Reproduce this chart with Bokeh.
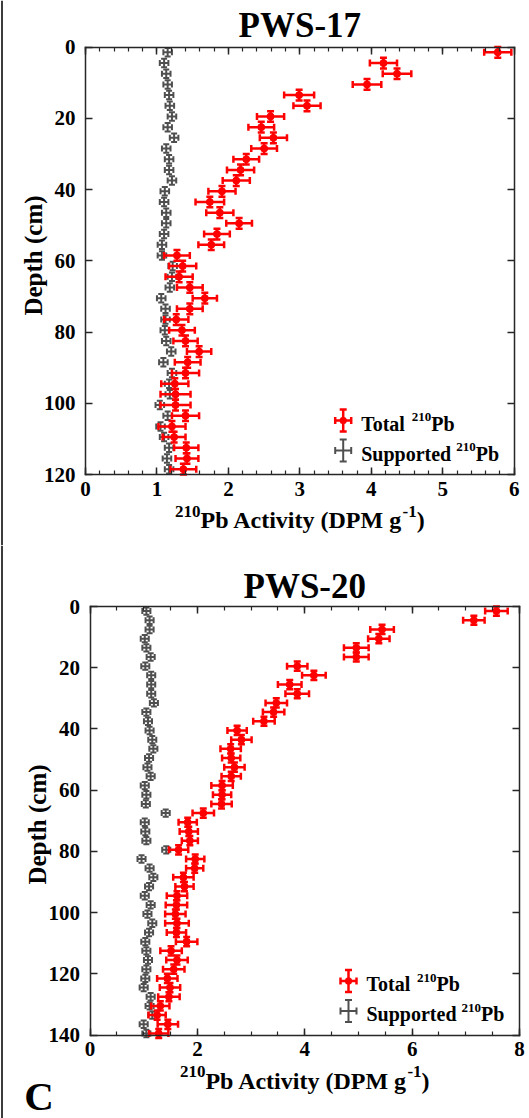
import math
from bokeh.plotting import figure
from bokeh.models import (Range1d, SingleIntervalTicker, LinearAxis, Whisker, TeeHead,
                          ColumnDataSource, Label, BoxAnnotation, CustomJSTickFormatter, Span)
from bokeh.layouts import column
from bokeh.embed import file_html
from bokeh.resources import INLINE

# ---------------- data ----------------
DEPTH_17 = [1.5, 4.5, 7.5, 10.5, 13.5, 16.5, 19.5, 22.5, 25.5, 28.5,
            31.5, 34.5, 37.5, 40.5, 43.5, 46.5, 49.5, 52.5, 55.5, 58.5,
            61.5, 64.5, 67.5, 70.5, 73.5, 76.5, 79.5, 82.5, 85.5, 88.5,
            91.5, 94.5, 97.5, 100.5, 103.5, 106.5, 109.5, 112.5, 115.5, 118.5]
TOTAL_17 = [5.77, 4.17, 4.36, 3.94, 2.99, 3.10, 2.59, 2.46, 2.63, 2.50,
            2.25, 2.17, 2.11, 1.91, 1.74, 1.88, 2.15, 1.84, 1.76, 1.28,
            1.36, 1.31, 1.46, 1.67, 1.46, 1.27, 1.35, 1.40, 1.59, 1.43,
            1.40, 1.25, 1.26, 1.26, 1.40, 1.21, 1.24, 1.41, 1.42, 1.37]
TOTAL_17_ERR = [0.19, 0.19, 0.20, 0.20, 0.21, 0.19, 0.19, 0.18, 0.19, 0.18,
                0.18, 0.19, 0.19, 0.19, 0.20, 0.19, 0.18, 0.18, 0.18, 0.18,
                0.19, 0.19, 0.18, 0.17, 0.18, 0.17, 0.18, 0.17, 0.17, 0.18,
                0.19, 0.19, 0.21, 0.21, 0.19, 0.19, 0.16, 0.17, 0.16, 0.18]
SUPP_17 = [1.15, 1.10, 1.13, 1.15, 1.17, 1.18, 1.21, 1.15, 1.24, 1.13,
           1.17, 1.17, 1.21, 1.11, 1.10, 1.13, 1.13, 1.10, 1.07, 1.07,
           1.22, 1.21, 1.18, 1.06, 1.12, 1.12, 1.11, 1.13, 1.20, 1.09,
           1.21, 1.17, 1.18, 1.04, 1.15, 1.05, 1.10, 1.17, 1.14, 1.17]
SUPP_17_ERR = 0.06

DEPTH_20 = [1.5, 4.5, 7.5, 10.5, 13.5, 16.5, 19.5, 22.5, 25.5, 28.5,
            31.5, 34.5, 37.5, 40.5, 43.5, 46.5, 49.5, 52.5, 55.5, 58.5,
            61.5, 64.5, 67.5, 70.5, 73.5, 76.5, 79.5, 82.5, 85.5, 88.5,
            91.5, 94.5, 97.5, 100.5, 103.5, 106.5, 109.5, 112.5, 115.5, 118.5,
            121.5, 124.5, 127.5, 130.5, 133.5, 136.5, 139.5]
TOTAL_20 = [7.57, 7.15, 5.44, 5.38, 4.96, 4.96, 3.86, 4.17, 3.72, 3.86,
            3.47, 3.42, 3.24, 2.74, 2.82, 2.62, 2.63, 2.69, 2.63, 2.46,
            2.46, 2.45, 2.11, 1.82, 1.84, 1.86, 1.65, 1.96, 1.95, 1.74,
            1.76, 1.62, 1.61, 1.59, 1.62, 1.61, 1.80, 1.51, 1.62, 1.56,
            1.44, 1.49, 1.47, 1.31, 1.25, 1.45, 1.28]
TOTAL_20_ERR = [0.21, 0.20, 0.22, 0.20, 0.23, 0.23, 0.19, 0.22, 0.22, 0.22,
                0.20, 0.20, 0.20, 0.18, 0.19, 0.19, 0.17, 0.19, 0.18, 0.20,
                0.17, 0.19, 0.20, 0.17, 0.17, 0.15, 0.18, 0.17, 0.16, 0.19,
                0.17, 0.19, 0.20, 0.19, 0.22, 0.18, 0.20, 0.20, 0.20, 0.20,
                0.19, 0.19, 0.20, 0.17, 0.16, 0.19, 0.18]
SUPP_20 = [1.05, 1.11, 1.11, 1.02, 1.05, 1.13, 1.03, 1.14, 1.14, 1.14,
           1.19, 1.05, 1.08, 1.11, 1.16, 1.18, 1.10, 1.07, 1.13, 1.02,
           1.05, 1.04, 1.41, 1.02, 1.03, 1.05, 1.42, 0.96, 1.11, 1.18,
           1.10, 1.02, 1.13, 1.07, 1.16, 1.10, 1.03, 1.05, 1.08, 1.05,
           1.03, 1.00, 1.13, 1.11, 1.16, 1.00, 1.05]
SUPP_20_ERR = 0.075

TOTAL_DEPTH_ERR = 1.5
SUPP_DEPTH_ERR = 1.2

TITLES = ["PWS-17", "PWS-20"]
X_LABEL = ("210", "Pb Activity (DPM g", "-1", ")")
Y_LABEL = "Depth (cm)"
LEGEND_TOTAL = ("Total ", "210", "Pb")
LEGEND_SUPP = ("Supported ", "210", "Pb")
PANEL_LETTER = "C"

# ---------------- style ----------------
FONT = "Liberation Serif"
RED = "#ff0000"
GRAY = "#4f4f4f"
AX = "#262626"
BASELINE_FIX = 0.3  # em: observed offset of the alphabetic baseline

# Times/Liberation Serif Bold advance widths (per 1000 em)
WID = {' ': 250, '(': 333, ')': 333, '-': 333, 'A': 722, 'C': 722, 'D': 722,
       'M': 944, 'P': 611, 'S': 556, 'T': 667, 'W': 1000, 'a': 500, 'b': 556,
       'c': 444, 'd': 556, 'e': 444, 'g': 500, 'h': 556, 'i': 278, 'l': 278,
       'm': 833, 'o': 500, 'p': 556, 'r': 444, 't': 333, 'u': 556, 'v': 500,
       'y': 500}


def tw(s, size):
    return sum(WID.get(c, 500) for c in s) * size / 1000.0


BLANK = "return ''"


def style_axis(ax, labels, minor=True):
    ax.axis_line_color = AX
    ax.axis_line_width = 1.5
    ax.axis_line_cap = "square"
    ax.major_tick_line_color = AX
    ax.major_tick_line_width = 1.5
    ax.major_tick_in = 7
    ax.major_tick_out = 0
    if minor:
        ax.minor_tick_line_color = AX
        ax.minor_tick_line_width = 1.2
        ax.minor_tick_in = 4
        ax.minor_tick_out = 0
    else:
        ax.minor_tick_line_color = None
    if labels:
        ax.major_label_text_font = FONT
        ax.major_label_text_font_style = "bold"
        ax.major_label_text_font_size = "21px"
        ax.major_label_text_color = "black"
    else:
        ax.formatter = CustomJSTickFormatter(code=BLANK)


def panel(title, depth, tot, tot_err, sup, sup_err, xmax, xint, xminor, ymax,
          H, box, title_base, xlabel_base, ylabel_pos, letter=None):
    W = 529
    bl, br, bt, bb = box  # data box in canvas pixels (left, right, top, bottom)
    ppx = (br - bl) / xmax
    ppy = (bb - bt) / ymax
    x_range = Range1d(-bl / ppx, xmax + (W - br) / ppx)
    y_range = Range1d(ymax + (H - bb) / ppy, -bt / ppy)
    p = figure(width=W, height=H, x_range=x_range, y_range=y_range,
               x_axis_location=None, y_axis_location=None,
               output_backend="svg", toolbar_location=None, min_border=0,
               background_fill_color="white", border_fill_color="white")
    p.outline_line_color = None
    p.xgrid.visible = False
    p.ygrid.visible = False

    def sy(cy):  # canvas y (top-down) -> screen y (bottom-up)
        return H - cy

    def text(t, cx, cy, size, align="left", baseline="alphabetic", angle=0.0):
        if baseline == "alphabetic":
            cy -= BASELINE_FIX * size
        p.add_layout(Label(x=cx, y=sy(cy), x_units="screen", y_units="screen", text=t,
                           text_font=FONT, text_font_style="bold",
                           text_font_size=f"{size}px", text_align=align,
                           text_baseline=baseline, angle=angle, text_color="black"))

    def rich(parts, cx, cy):
        for t, size, rise in parts:
            text(t, cx, cy - rise, size)
            cx += tw(t, size)

    # left border line of the figure
    p.add_layout(Span(location=1.5, location_units="screen", dimension="height",
                      line_color="#3c3c3c", line_width=2))

    xt = SingleIntervalTicker(interval=xint, num_minor_ticks=xminor)
    yt = SingleIntervalTicker(interval=20, num_minor_ticks=2)

    ax_b = LinearAxis(fixed_location=ymax, bounds=(0, xmax), ticker=xt)
    style_axis(ax_b, True)
    ax_b.major_label_standoff = 7
    p.add_layout(ax_b, "below")
    ax_t = LinearAxis(fixed_location=0, bounds=(0, xmax), ticker=xt)
    style_axis(ax_t, False)
    p.add_layout(ax_t, "above")
    ax_l = LinearAxis(fixed_location=0, bounds=(0, ymax), ticker=yt)
    style_axis(ax_l, True, minor=False)
    ax_l.major_label_standoff = 6
    p.add_layout(ax_l, "left")
    ax_r = LinearAxis(fixed_location=xmax, bounds=(0, ymax), ticker=yt)
    style_axis(ax_r, False, minor=False)
    p.add_layout(ax_r, "right")

    # supported (gray)
    s_src = ColumnDataSource(dict(
        d=depth, x=sup,
        xlo=[v - sup_err for v in sup], xhi=[v + sup_err for v in sup],
        dlo=[d - SUPP_DEPTH_ERR for d in depth], dhi=[d + SUPP_DEPTH_ERR for d in depth]))
    for dim, base, lo, hi in (("width", "d", "xlo", "xhi"), ("height", "x", "dlo", "dhi")):
        p.add_layout(Whisker(source=s_src, base=base, lower=lo, upper=hi, dimension=dim,
                             line_color=GRAY, line_width=2,
                             lower_head=TeeHead(size=6, line_color=GRAY, line_width=2),
                             upper_head=TeeHead(size=6, line_color=GRAY, line_width=2)))

    # total (red)
    t_src = ColumnDataSource(dict(
        d=depth, x=tot,
        xlo=[v - e for v, e in zip(tot, tot_err)], xhi=[v + e for v, e in zip(tot, tot_err)],
        dlo=[d - TOTAL_DEPTH_ERR for d in depth], dhi=[d + TOTAL_DEPTH_ERR for d in depth]))
    for dim, base, lo, hi in (("width", "d", "xlo", "xhi"), ("height", "x", "dlo", "dhi")):
        p.add_layout(Whisker(source=t_src, base=base, lower=lo, upper=hi, dimension=dim,
                             line_color=RED, line_width=2.5,
                             lower_head=TeeHead(size=7, line_color=RED, line_width=2.5),
                             upper_head=TeeHead(size=7, line_color=RED, line_width=2.5)))
    p.scatter("x", "d", source=t_src, marker="circle", size=7,
              fill_color=RED, line_color=RED)

    cxm = (bl + br) / 2
    # title
    text(title, cxm, title_base, 35, align="center")

    # x label with superscripts
    parts = [(X_LABEL[0], 17, 11), (X_LABEL[1], 24, 0), (X_LABEL[2], 17, 11), (X_LABEL[3], 24, 0)]
    total_w = sum(tw(t, s) for t, s, _ in parts)
    rich(parts, cxm - total_w / 2, xlabel_base)

    # y label
    text(Y_LABEL, ylabel_pos[0], ylabel_pos[1], 25, align="center", baseline="middle",
         angle=math.pi / 2)

    # legend
    tx = br - 153
    gx = tx - 18
    for i, (labels, color, dot) in enumerate(((LEGEND_TOTAL, RED, True),
                                               (LEGEND_SUPP, GRAY, False))):
        cyc = bb - 54 + 30 * i
        yc = sy(cyc)
        lw = 2.5 if dot else 2
        g1 = ColumnDataSource(dict(b=[yc], lo=[gx - 8], hi=[gx + 8]))
        p.add_layout(Whisker(source=g1, base="b", lower="lo", upper="hi", dimension="width",
                             base_units="screen", lower_units="screen", upper_units="screen",
                             line_color=color, line_width=lw,
                             lower_head=TeeHead(size=7, line_color=color, line_width=lw),
                             upper_head=TeeHead(size=7, line_color=color, line_width=lw)))
        g2 = ColumnDataSource(dict(b=[gx], lo=[yc - 11], hi=[yc + 11]))
        p.add_layout(Whisker(source=g2, base="b", lower="lo", upper="hi", dimension="height",
                             base_units="screen", lower_units="screen", upper_units="screen",
                             line_color=color, line_width=lw,
                             lower_head=TeeHead(size=7, line_color=color, line_width=lw),
                             upper_head=TeeHead(size=7, line_color=color, line_width=lw)))
        if dot:
            p.add_layout(BoxAnnotation(left=gx - 3.5, right=gx + 3.5, bottom=yc - 3.5, top=yc + 3.5,
                                       left_units="screen", right_units="screen",
                                       top_units="screen", bottom_units="screen",
                                       fill_color=color, fill_alpha=1.0, line_color=color,
                                       border_radius=4))
        rich([(labels[0], 20, 0), (labels[1], 13, 8.6), (labels[2], 20, 0)], tx, cyc + 9)

    if letter:
        text(letter, 23.8, H - 10, 41)
    return p


# page coordinates (the page is drawn without margin)
p1 = panel(TITLES[0], DEPTH_17, TOTAL_17, TOTAL_17_ERR, SUPP_17, SUPP_17_ERR,
           6, 1, 5, 120, H=545, box=(85, 513.7, 46.5, 474),
           title_base=35.4, xlabel_base=527, ylabel_pos=(33, 255))
p2 = panel(TITLES[1], DEPTH_20, TOTAL_20, TOTAL_20_ERR, SUPP_20, SUPP_20_ERR,
           8, 2, 4, 140, H=573, box=(89.5, 519, 61, 489.5),
           title_base=51.6, xlabel_base=542.3, ylabel_pos=(37, 279),
           letter=PANEL_LETTER)

layout = column(p1, p2, spacing=0)
open("out.html", "w").write(file_html(layout, INLINE))
